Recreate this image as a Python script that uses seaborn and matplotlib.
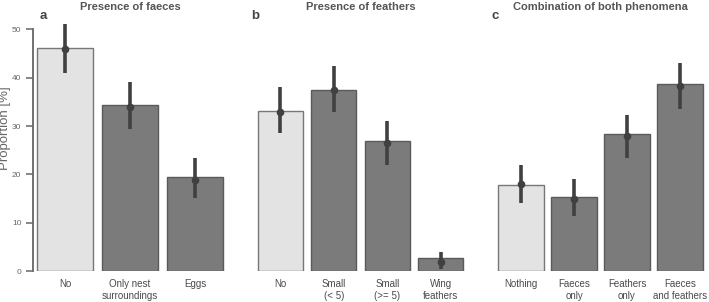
import numpy as np
import pandas as pd
import matplotlib
matplotlib.use('Agg')
import matplotlib.pyplot as plt
import seaborn as sns

sns.set_style('white')
plt.rcParams['font.family'] = ['Liberation Sans', 'DejaVu Sans']

# panel a: presence of faeces
cats_a = ['No', 'Only nest\nsurroundings', 'Eggs']
bar_a = [46.2, 34.4, 19.5]
pt_a = [46.0, 34.0, 18.9]
lo_a = [41.0, 29.4, 15.1]
hi_a = [51.1, 39.2, 23.4]

# panel b: presence of feathers
cats_b = ['No', 'Small\n(< 5)', 'Small\n(>= 5)', 'Wing\nfeathers']
bar_b = [33.1, 37.5, 26.9, 2.7]
pt_b = [33.0, 37.4, 26.4, 1.8]
lo_b = [28.6, 32.9, 21.9, 0.5]
hi_b = [38.1, 42.4, 31.0, 3.9]

# panel c: combination of both phenomena
cats_c = ['Nothing', 'Faeces\nonly', 'Feathers\nonly', 'Faeces\nand feathers']
bar_c = [17.8, 15.3, 28.4, 38.7]
pt_c = [18.0, 15.0, 28.0, 38.2]
lo_c = [14.0, 11.4, 23.3, 33.5]
hi_c = [21.9, 19.0, 32.4, 43.1]

titles = ['Presence of faeces', 'Presence of feathers', 'Combination of both phenomena']
letters = ['a', 'b', 'c']
letter_x = [40, 251, 492]

light = '#e3e3e3'
dark = '#7b7b7b'

fig = plt.figure(figsize=(7.09, 3.02), dpi=100)
W, H = 709, 302
bottom = 31 / H
height = 52 * 4.83 / H
boxes = [(32.5, 195), (253.5, 214), (494.5, 212)]

panels = [(cats_a, bar_a, pt_a, lo_a, hi_a),
          (cats_b, bar_b, pt_b, lo_b, hi_b),
          (cats_c, bar_c, pt_c, lo_c, hi_c)]

for i, (cats, bars, pts, lo, hi) in enumerate(panels):
    x0, w = boxes[i]
    ax = fig.add_axes([x0 / W, bottom, w / W, height])
    df = pd.DataFrame({'cat': cats, 'val': bars})
    pal = [light] + [dark] * (len(cats) - 1)
    sns.barplot(data=df, x='cat', y='val', hue='cat', palette=pal, legend=False,
                width=0.85, edgecolor='#5a5a5a', linewidth=1.0, saturation=1, ax=ax)
    ax.patches[0].set_edgecolor('#777777')
    pos = np.arange(len(cats))
    pts = np.array(pts)
    ax.errorbar(pos, pts, yerr=[pts - np.array(lo), np.array(hi) - pts],
                fmt='o', color='#404040', ms=4.5, elinewidth=2.6, capsize=0, zorder=5)
    ax.set_xlim(-0.5, len(cats) - 0.5)
    ax.set_ylim(0, 52)
    ax.set_xlabel('')
    ax.set_ylabel('')
    ax.tick_params(axis='x', length=0, labelsize=7, colors='#4a4a4a', pad=6)
    for s in ['top', 'right', 'bottom']:
        ax.spines[s].set_visible(False)
    if i == 0:
        ax.spines['left'].set_bounds(0, 50)
        ax.spines['left'].set_color('#666666')
        ax.spines['left'].set_linewidth(1.3)
        ax.set_yticks([0, 10, 20, 30, 40, 50])
        ax.tick_params(axis='y', left=True, length=5, width=1.1, colors='#666666',
                       labelsize=6, pad=3)
        ax.set_ylabel('Proportion [%]', fontsize=9.5, color='#666666')
        ax.yaxis.set_label_coords(-0.112, 0.57)
    else:
        ax.spines['left'].set_visible(False)
        ax.set_yticks([])
    cx = (x0 + w / 2) / W
    fig.text(cx, 1 - 7 / H, titles[i], ha='center', va='center', fontsize=8,
             fontweight='bold', color='#555555')
    fig.text(letter_x[i] / W, 1 - 16 / H, letters[i], ha='left', va='center',
             fontsize=9.5, fontweight='bold', color='#444444')

fig.savefig('out.png', dpi=100)
